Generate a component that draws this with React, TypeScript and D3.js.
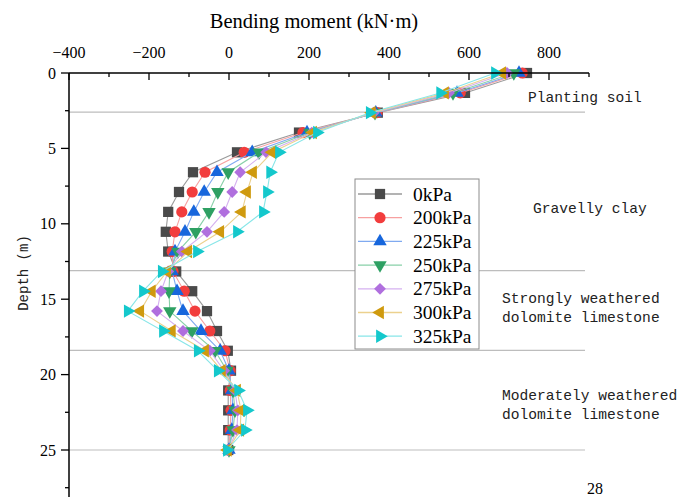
import React from "react";
import * as d3 from "d3";

const depths = [0, 1.32, 2.63, 3.95, 5.26, 6.58, 7.89, 9.21, 10.53, 11.84, 13.16, 14.47, 15.79, 17.11, 18.42, 19.74, 21.05, 22.37, 23.68, 25];

const seriesNames = ["0kPa", "200kPa", "225kPa", "250kPa", "275kPa", "300kPa", "325kPa"];
const m0 = [745, 590, 372, 175, 20, -90, -125, -152, -158, -152, -132, -92, -55, -30, -3, 5, -2, -2, -2, -2];
const m200 = [733, 578, 370, 185, 38, -60, -92, -118, -135, -142, -140, -112, -85, -48, -10, 3, 3, 5, 3, -1];
const m225 = [725, 570, 367, 195, 58, -30, -62, -88, -110, -135, -142, -130, -115, -70, -22, 0, 7, 10, 7, 0];
const m250 = [712, 560, 365, 202, 75, -2, -28, -50, -83, -128, -148, -150, -148, -93, -35, -5, 10, 15, 10, 0];
const m275 = [695, 550, 362, 207, 93, 28, 8, -12, -55, -118, -152, -170, -180, -115, -48, -12, 15, 22, 20, -2];
const m300 = [683, 540, 357, 210, 108, 60, 45, 32, -22, -102, -155, -193, -222, -143, -60, -18, 20, 30, 28, -3];
const m325 = [665, 528, 352, 220, 125, 103, 95, 85, 20, -80, -168, -215, -253, -165, -78, -28, 23, 45, 40, -5];
const seriesValues = [m0, m200, m225, m250, m275, m300, m325];

const colors = ["#4a4a4a", "#f23d3d", "#1766dc", "#2ea063", "#b06fde", "#cf9a0e", "#14c8cc"];
const lineColors = ["#9a9a9a", "#f7a0a0", "#80aaf0", "#88d0a8", "#d5b0f0", "#ecd18e", "#88e6e8"];
const markerKinds = ["square", "circle", "up", "down", "diamond", "left", "right"];

const layerBounds = [2.6, 13.1, 18.4, 25];
const xTicks = [-400, -300, -200, -100, 0, 100, 200, 300, 400, 500, 600, 700, 800, 900];
const xLabelTicks = [-400, -200, 0, 200, 400, 600, 800];
const yTicks = [0, 2.5, 5, 7.5, 10, 12.5, 15, 17.5, 20, 22.5, 25, 27.5];
const yLabelTicks = [0, 5, 10, 15, 20, 25];

const layerLabels = [
  { lines: ["Planting soil"], x: 528, y: 102 },
  { lines: ["Gravelly clay"], x: 533, y: 213 },
  { lines: ["Strongly weathered", "dolomite limestone"], x: 502, y: 303 },
  { lines: ["Moderately weathered", "dolomite limestone"], x: 502, y: 400 },
];

function Marker({ kind, x, y, color }: { kind: string; x: number; y: number; color: string }) {
  if (kind === "circle") return <circle cx={x} cy={y} r={5.6} fill={color} />;
  let path = "";
  let rot = 0;
  if (kind === "square") path = d3.symbol(d3.symbolSquare, 105)() as string;
  else if (kind === "diamond") { path = d3.symbol(d3.symbolSquare, 70)() as string; rot = 45; }
  else {
    path = d3.symbol(d3.symbolTriangle, 78)() as string;
    rot = kind === "up" ? 0 : kind === "down" ? 180 : kind === "left" ? -90 : 90;
  }
  return <path d={path} transform={`translate(${x},${y}) rotate(${rot})`} fill={color} />;
}

export default function App() {
  const x = d3.scaleLinear().domain([-400, 900]).range([69, 589]);
  const y = d3.scaleLinear().domain([0, 28]).range([73, 73 + 28 * 15.08]);
  const line = d3.line<[number, number]>().x((d) => x(d[0])).y((d) => y(d[1]));
  const serif = "'Liberation Serif', 'Times New Roman', serif";
  const mono = "'Liberation Mono', 'DejaVu Sans Mono', monospace";

  const legX = 355, legY = 179, legW = 124, legH = 170;
  const rowH = 23.7;

  return (
    <svg width={684} height={497} style={{ position: "absolute", left: 0, top: 0, background: "#fff" }}>
      <rect x={0} y={0} width={684} height={497} fill="#fff" />
      {/* layer boundary lines */}
      {layerBounds.map((b) => (
        <line key={b} x1={x(-400)} x2={585} y1={y(b)} y2={y(b)} stroke="#bdbdbd" strokeWidth={1.2} />
      ))}
      {/* series */}
      {seriesValues.map((vals, si) => {
        const pts = vals.map((v, i) => [v, depths[i]] as [number, number]);
        return (
          <g key={si}>
            <path d={line(pts) as string} fill="none" stroke={lineColors[si]} strokeWidth={1.1} />
            {pts.map((p, i) => (
              <Marker key={i} kind={markerKinds[si]} x={x(p[0])} y={y(p[1])} color={colors[si]} />
            ))}
          </g>
        );
      })}
      {/* top axis */}
      <line x1={x(-400)} x2={x(900)} y1={y(0)} y2={y(0)} stroke="#000" strokeWidth={1.5} />
      {xTicks.map((t) => (
        <line key={t} x1={x(t)} x2={x(t)} y1={y(0)} y2={y(0) + (t % 200 === 0 ? 7 : 4)} stroke="#000" strokeWidth={1.3} />
      ))}
      {xLabelTicks.map((t) => (
        <text key={t} x={x(t)} y={58} textAnchor="middle" fontFamily={serif} fontSize={16} fill="#000">
          {t < 0 ? `\u2212${Math.abs(t)}` : t}
        </text>
      ))}
      <text x={314} y={28} textAnchor="middle" fontFamily={serif} fontSize={20.5} fill="#000">
        Bending moment (kN·m)
      </text>
      {/* left axis */}
      <line x1={x(-400)} x2={x(-400)} y1={y(0)} y2={497} stroke="#000" strokeWidth={1.5} />
      {yTicks.map((t) => (
        <line key={t} x1={x(-400) - (t % 5 === 0 ? 8 : 4)} x2={x(-400)} y1={y(t)} y2={y(t)} stroke="#000" strokeWidth={1.3} />
      ))}
      {yLabelTicks.map((t) => (
        <text key={t} x={56} y={y(t) + 5.5} textAnchor="end" fontFamily={serif} fontSize={16} fill="#000">
          {t}
        </text>
      ))}
      <text
        transform={`translate(28,273) rotate(-90)`}
        textAnchor="middle"
        fontFamily={mono}
        fontSize={14}
        fill="#222"
      >
        Depth (m)
      </text>
      {/* layer labels */}
      {layerLabels.map((l, li) =>
        l.lines.map((s, k) => (
          <text
            key={`${li}-${k}`}
            x={l.x}
            y={l.y + k * 19}
            fontFamily={mono}
            fontSize={14.6}
            fill="#222"
          >
            {s}
          </text>
        ))
      )}
      <text x={595} y={494} textAnchor="middle" fontFamily={serif} fontSize={16} fill="#000">
        28
      </text>
      {/* legend */}
      <rect x={legX} y={legY} width={legW} height={legH} fill="#fff" stroke="#8c8c8c" strokeWidth={1} />
      {seriesNames.map((n, i) => {
        const cy = legY + 15 + i * rowH;
        return (
          <g key={n}>
            <line x1={358} x2={402} y1={cy} y2={cy} stroke={lineColors[i]} strokeWidth={1.3} />
            <Marker kind={markerKinds[i]} x={380} y={cy} color={colors[i]} />
            <text x={413} y={cy + 6.5} fontFamily={serif} fontSize={19.5} fill="#000">
              {n}
            </text>
          </g>
        );
      })}
    </svg>
  );
}
